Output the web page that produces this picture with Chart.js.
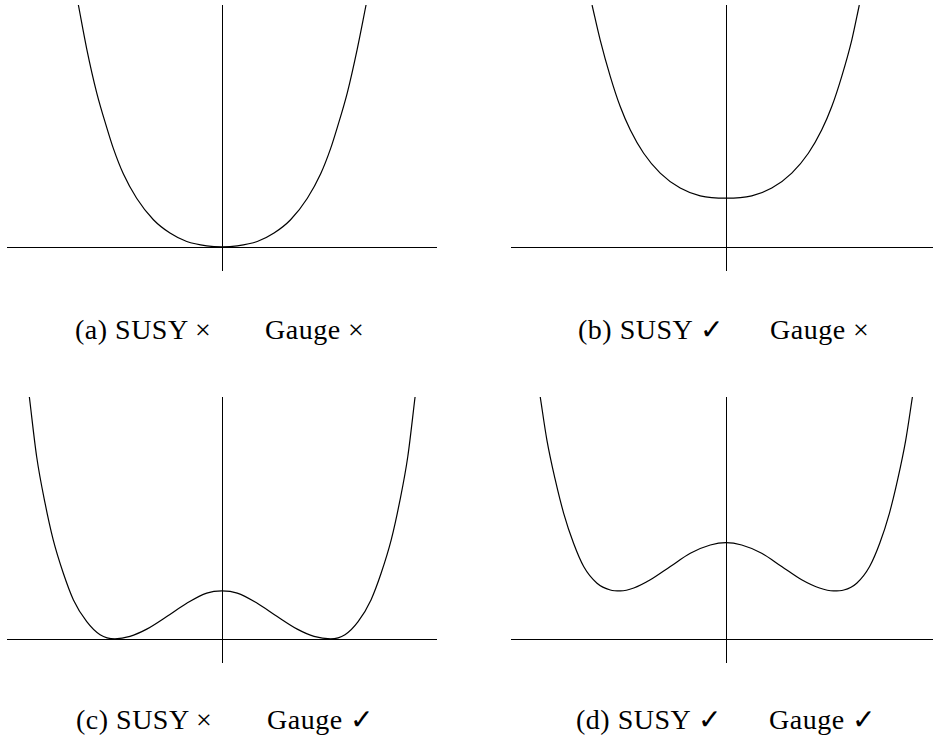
<!DOCTYPE html>
<html>
<head>
<meta charset="utf-8">
<script src="https://cdn.jsdelivr.net/npm/chart.js@4"></script>
<style>
    html, body { margin: 0; padding: 0; background: #fff; overflow: hidden; }
    body { width: 933px; height: 738px; position: relative; }
    .painel { position: absolute; width: 430px; height: 266px; }
    .legenda {
        position: absolute;
        font-family: "Liberation Serif", "DejaVu Serif", serif;
        font-size: 28px;
        line-height: 28px;
        letter-spacing: 0.5px;
        color: #000;
        white-space: nowrap;
    }
</style>
</head>
<body>
<div class="painel" style="left:7px; top:5px;"><canvas id="grafico-a" width="430" height="266"></canvas></div>
<div class="painel" style="left:511px; top:5px;"><canvas id="grafico-b" width="430" height="266"></canvas></div>
<div class="painel" style="left:7px; top:397px;"><canvas id="grafico-c" width="430" height="266"></canvas></div>
<div class="painel" style="left:511px; top:397px;"><canvas id="grafico-d" width="430" height="266"></canvas></div>

<span class="legenda" style="left:75px; top:316px;">(a) SUSY ×</span>
<span class="legenda" style="left:265px; top:316px;">Gauge ×</span>
<span class="legenda" style="left:578px; top:316px;">(b) SUSY ✓</span>
<span class="legenda" style="left:770px; top:316px;">Gauge ×</span>
<span class="legenda" style="left:76px; top:706px;">(c) SUSY ×</span>
<span class="legenda" style="left:267px; top:706px;">Gauge ✓</span>
<span class="legenda" style="left:576px; top:706px;">(d) SUSY ✓</span>
<span class="legenda" style="left:769px; top:706px;">Gauge ✓</span>

<script>
// (a) quartic, minimum at the origin
const xA = [-6.68, -6.29, -5.83, -5.36, -5.05, -4.59, -3.97, -3.19, -2.42, -1.64, -0.71, 0, 0.71, 1.64, 2.42, 3.19, 3.97, 4.59, 5.05, 5.36, 5.83, 6.29, 6.70];
const yA = [10, 8.18, 6.38, 4.93, 4.06, 3.02, 2.01, 1.12, 0.57, 0.22, 0.04, 0, 0.04, 0.22, 0.57, 1.12, 2.01, 3.02, 4.06, 4.93, 6.38, 8.18, 10];

// (b) lifted minimum
const xB = [-6.23, -5.85, -5.38, -4.92, -4.45, -3.83, -3.06, -2.13, -1.20, 0, 1.20, 2.13, 3.06, 3.83, 4.45, 4.92, 5.38, 5.85, 6.20];
const yB = [10, 8.55, 7.04, 5.80, 4.83, 3.87, 3.05, 2.43, 2.11, 2.01, 2.11, 2.43, 3.05, 3.87, 4.83, 5.80, 7.04, 8.55, 10];

// (c) double well touching zero
const xC = [-8.96, -8.62, -8.23, -7.85, -7.38, -6.91, -6.29, -5.67, -4.98, -4.28, -3.50, -2.57, -1.64, -0.71, 0, 0.71, 1.64, 2.57, 3.50, 4.28, 5.05, 5.72, 6.33, 6.93, 7.40, 7.87, 8.25, 8.64, 8.98];
const yC = [10, 7.53, 5.61, 4.09, 2.71, 1.61, 0.71, 0.17, 0, 0.10, 0.40, 0.92, 1.47, 1.89, 1.98, 1.89, 1.47, 0.92, 0.40, 0.10, 0, 0.17, 0.71, 1.61, 2.71, 4.09, 5.61, 7.53, 10];

// (d) double well above zero
const xD = [-8.64, -8.33, -7.94, -7.55, -7.09, -6.62, -6.00, -5.38, -4.91, -4.29, -3.52, -2.59, -1.66, -0.73, 0, 0.73, 1.66, 2.59, 3.52, 4.35, 5.00, 5.48, 6.08, 6.68, 7.15, 7.60, 7.98, 8.36, 8.67];
const yD = [10, 8.22, 6.57, 5.19, 3.95, 2.99, 2.30, 2.02, 1.98, 2.10, 2.44, 2.99, 3.54, 3.88, 3.98, 3.88, 3.54, 2.99, 2.44, 2.10, 1.98, 2.02, 2.30, 2.99, 3.95, 5.19, 6.57, 8.22, 10];

const xMin = -10, xMax = 10;
const yMin = -1, yMax = 10;

// desenha os eixos passando pela origem
const eixos = {
    id: 'eixos',
    beforeDatasetsDraw(chart) {
        const ctx = chart.ctx;
        const area = chart.chartArea;
        const x0 = Math.round(chart.scales.x.getPixelForValue(0)) + 0.5;
        const y0 = Math.round(chart.scales.y.getPixelForValue(0)) + 0.5;
        ctx.save();
        ctx.strokeStyle = '#000';
        ctx.lineWidth = 1;
        ctx.beginPath();
        ctx.moveTo(area.left, y0);
        ctx.lineTo(area.right, y0);
        ctx.moveTo(x0, area.top);
        ctx.lineTo(x0, area.bottom);
        ctx.stroke();
        ctx.restore();
    }
};

function desenharPotencial(id, xs, ys) {
    const context = document.getElementById(id).getContext('2d');
    const pontos = xs.map((x, i) => ({ x: x, y: ys[i] }));

    return new Chart(context, {
        type: 'scatter',
        data: {
            datasets: [{
                data: pontos,
                showLine: true,
                pointRadius: 0,
                borderColor: '#000',
                borderWidth: 1.2,
                cubicInterpolationMode: 'monotone',
                fill: false,
            }],
        },
        options: {
            responsive: false,
            animation: false,
            events: [],
            layout: { padding: 0 },
            plugins: {
                legend: { display: false },
                tooltip: { enabled: false },
            },
            scales: {
                x: { type: 'linear', min: xMin, max: xMax, display: false },
                y: { type: 'linear', min: yMin, max: yMax, display: false },
            },
        },
        plugins: [eixos],
    });
}

desenharPotencial('grafico-a', xA, yA);
desenharPotencial('grafico-b', xB, yB);
desenharPotencial('grafico-c', xC, yC);
desenharPotencial('grafico-d', xD, yD);
</script>
</body>
</html>
